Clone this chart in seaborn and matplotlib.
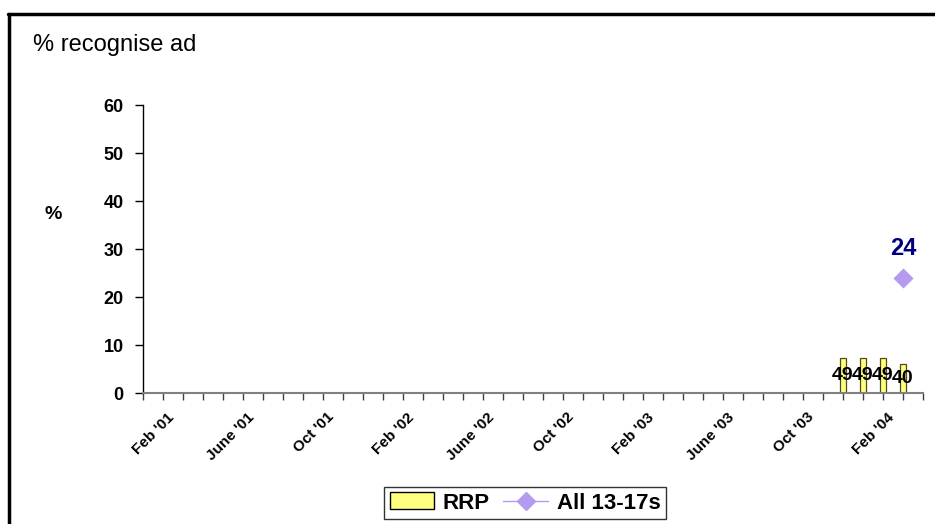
import matplotlib
matplotlib.use("Agg")
import matplotlib.pyplot as plt
import matplotlib.transforms as mtransforms
import seaborn as sns
import pandas as pd
from matplotlib.lines import Line2D
from matplotlib.patches import Patch

# months Jan '01 .. Mar '04 (39 categories), labelled every 4 months from Feb '01
n_months = 39
tick_label_pos = [1, 5, 9, 13, 17, 21, 25, 29, 33, 37]
tick_labels = ["Feb '01", "June '01", "Oct '01", "Feb '02", "June '02",
               "Oct '02", "Feb '03", "June '03", "Oct '03", "Feb '04"]

# RRP bars (last four months)
rrp_month = [35, 36, 37, 38]
rrp_value = [7.3, 7.3, 7.3, 6.1]
rrp_label = ["49", "49", "49", "40"]

# All 13-17s
all_month = [38]
all_value = [24]

bar_color = "#FFFF80"
diamond_color = "#B49BF0"

sns.set_style("white")
plt.rcParams["font.family"] = ["Liberation Sans", "DejaVu Sans"]
plt.rcParams["text.color"] = "black"
plt.rcParams["xtick.color"] = "black"
plt.rcParams["ytick.color"] = "black"
plt.rcParams["xtick.labelcolor"] = "black"
plt.rcParams["ytick.labelcolor"] = "black"

fig = plt.figure(figsize=(9.35, 5.24), dpi=100)
ax = fig.add_axes([143 / 935, 1 - 393 / 524, 780 / 935, 288 / 524])

rrp = pd.DataFrame({"month": rrp_month, "value": rrp_value})
sns.barplot(data=rrp, x="month", y="value", native_scale=True, width=0.3,
            color=bar_color, edgecolor="#4d4d1a", linewidth=0.9,
            saturation=1, ax=ax)
for m, v, lab in zip(rrp_month, rrp_value, rrp_label):
    ax.text(m, v / 2, lab, ha="center", va="center", fontsize=14,
            fontweight="bold", color="black", zorder=6)

alls = pd.DataFrame({"month": all_month, "value": all_value})
sns.scatterplot(data=alls, x="month", y="value", marker="D", s=90,
                color=diamond_color, edgecolor=diamond_color, ax=ax, zorder=5)
for m, v in zip(all_month, all_value):
    ax.text(m, v + 4.8, str(v), ha="center", va="baseline", fontsize=17,
            fontweight="bold", color="#000080")

ax.set_xlim(0, n_months)
ax.set_ylim(0, 60)
ax.set_yticks(range(0, 61, 10))
ax.set_yticklabels([str(v) for v in range(0, 61, 10)], fontsize=13,
                   fontweight="bold")

ax.set_xticks(range(0, n_months + 1))
ax.set_xticklabels([""] * (n_months + 1))
# date labels, slanted, sitting just right of their month tick
lab_trans = ax.get_xaxis_transform() + mtransforms.ScaledTranslation(
    0, -22 / 100, fig.dpi_scale_trans)
for p, t in zip(tick_label_pos, tick_labels):
    ax.text(p + 0.45, 0, t, transform=lab_trans, rotation=45, ha="right",
            va="center", rotation_mode="anchor", fontsize=11,
            fontweight="bold", clip_on=False)

ax.tick_params(axis="x", length=5, width=1, color="#404040",
               direction="out", bottom=True)
ax.tick_params(axis="y", length=6, width=1, color="black", direction="out",
               left=True, pad=8)
ax.set_xlabel("")
ax.set_ylabel("")

for s in ["top", "right"]:
    ax.spines[s].set_visible(False)
ax.spines["left"].set_color("black")
ax.spines["left"].set_linewidth(1)
ax.spines["bottom"].set_color("#808080")
ax.spines["bottom"].set_linewidth(1.5)

fig.text(33 / 935, 1 - 45 / 524, "% recognise ad", fontsize=17,
         ha="left", va="center")
fig.text(53 / 935, 1 - 214 / 524, "%", fontsize=14, fontweight="bold",
         ha="center", va="center")

handles = [Patch(facecolor=bar_color, edgecolor="black", linewidth=1),
           Line2D([0], [0], color=diamond_color, marker="D", markersize=9,
                  linewidth=1)]
fig.legend(handles, ["RRP", "All 13-17s"], loc="center",
           bbox_to_anchor=(525 / 935, 1 - 503 / 524), ncol=2, frameon=True,
           fancybox=False, edgecolor="black",
           prop={"weight": "bold", "size": 16}, handlelength=2.0,
           handleheight=0.8, handletextpad=0.4, columnspacing=0.6,
           borderpad=0.25, borderaxespad=0)

# outer chart frame (clipped at right and bottom)
fig.add_artist(Line2D([8 / 935, 1], [1 - 14 / 524, 1 - 14 / 524],
                      color="black", linewidth=2.5, transform=fig.transFigure))
fig.add_artist(Line2D([9 / 935, 9 / 935], [1 - 14 / 524, 0],
                      color="black", linewidth=2.5, transform=fig.transFigure))

fig.savefig("out.png", dpi=100)
